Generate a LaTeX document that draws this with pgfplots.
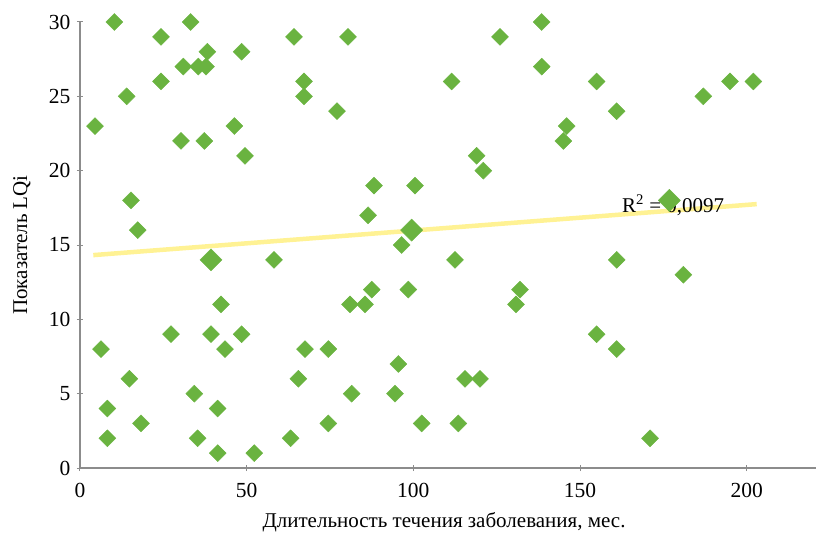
\documentclass[border=0pt]{standalone}
\usepackage{fontspec}
\setmainfont{Liberation Serif}
\usepackage{pgfplots}
\pgfplotsset{compat=1.18}
\definecolor{ptgreen}{HTML}{6AB340}
\definecolor{trend}{HTML}{FFF294}
\definecolor{axgray}{HTML}{8C8C8C}
\begin{document}
\begin{tikzpicture}
\begin{axis}[
 scale only axis, width=736pt, height=446pt,
 xmin=0, xmax=220.8, ymin=0, ymax=30,
 clip=false,
 axis x line=bottom, axis y line=left,
 axis line style={-, draw=axgray, line width=1.2pt},
 xtick={0,50,100,150,200}, ytick={0,5,...,30},
 tick align=center, major tick length=6pt,
 tick style={draw=axgray, line width=1pt},
 /pgf/number format/assume math mode=true,
 tick label style={font=\fontsize{21.5}{25}\selectfont\rmfamily},
 xticklabel style={yshift=-9pt},
 yticklabel style={xshift=-3pt},
 xlabel={Длительность течения заболевания, мес.},
 ylabel={Показатель LQi},
 every axis x label/.style={at={(axis description cs:0.4946,-0.122)}, anchor=center, font=\fontsize{21}{25}\selectfont\rmfamily},
 every axis y label/.style={at={(axis description cs:-0.079,0.5)}, rotate=90, anchor=center, font=\fontsize{21}{25}\selectfont\rmfamily},
]
\addplot[trend, line width=4.5pt, no marks] coordinates {(4,14.32) (203,17.75)};
\addplot[only marks, color=ptgreen, mark=square*, mark size=6pt, mark options={rotate=45, fill=ptgreen, draw=none}] coordinates {
(4.5,23) (10.3,30) (14,25) (24.3,29) (24.3,26) (15.3,18) (17.3,16) (6.3,8)
(8.2,4) (8.2,2) (14.8,6) (18.3,3) (27.3,9) (30.3,22) (31,27) (33.2,30)
(35.5,27) (37.8,27) (38.2,28) (37.3,22) (46.3,23) (48.5,28) (49.5,21)
(42.3,11) (39.3,9) (43.5,8) (48.5,9) (34.3,5) (41.3,4) (35.3,2) (41.3,1)
(52.3,1) (58.2,14) (64.2,29) (67.2,26) (67.2,25) (77.1,24) (80.4,29)
(126,29) (111.5,26) (119,21) (121,20) (88.2,19) (100.5,19) (86.4,17)
(96.5,15) (112.5,14) (138.5,30) (138.5,27) (155,26) (161,24) (146,23)
(145,22) (187,25) (195,26) (202,26) (161,14) (181,13) (87.5,12) (98.5,12)
(81,11) (85.5,11) (132,12) (130.8,11) (67.5,8) (74.5,8) (95.5,7) (65.5,6)
(115.5,6) (120,6) (81.5,5) (94.5,5) (74.5,3) (102.5,3) (113.5,3) (63.2,2)
(155,9) (161,8) (171,2)
};
\addplot[only marks, color=ptgreen, mark=square*, mark size=7.8pt, mark options={rotate=45, fill=ptgreen, draw=none}] coordinates {
(39.3,14) (99.5,16) (176.8,18)
};
\node[anchor=base west, inner sep=0pt, font=\fontsize{21}{25}\selectfont\rmfamily] at (axis cs:162.6,17.2) {R\textsuperscript{2} = 0,0097};
\coordinate (bbA) at (axis cs:-24,-4.439);
\coordinate (bbB) at (axis cs:220.8,31.48);
\end{axis}
\pgfresetboundingbox
\path[use as bounding box] (bbA) rectangle (bbB);
\end{tikzpicture}
\end{document}
